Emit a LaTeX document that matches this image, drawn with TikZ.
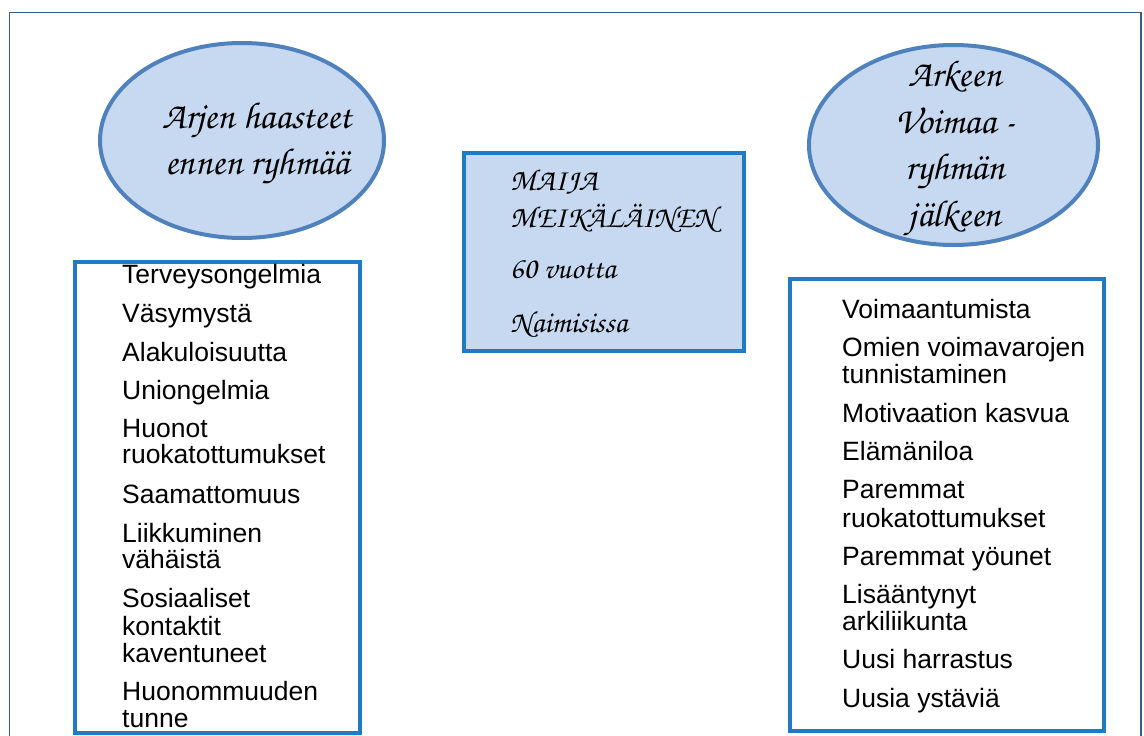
\documentclass[tikz,border=0pt]{standalone}
\usepackage{fontspec}
\setmainfont{Liberation Sans}
\newfontfamily\callig{texgyrechorus-mediumitalic.otf}
\usetikzlibrary{shapes.geometric}

\definecolor{ovalfill}{HTML}{C6D9F1}
\definecolor{ovalline}{HTML}{4F81BD}
\definecolor{boxline}{HTML}{1F7BC6}
\definecolor{frameline}{HTML}{385D8A}

\begin{document}
\begin{tikzpicture}[x=1pt,y=-1pt,
	oval/.style={ellipse, draw=ovalline, fill=ovalfill, line width=4pt, inner sep=0pt},
	ovaltext/.style={inner sep=0pt, align=center, font=\callig\fontsize{37.5}{46.5}\selectfont},
	listbox/.style={draw=boxline, line width=4pt, inner sep=0pt},
	item/.style={anchor=base west, inner sep=0pt, font=\fontsize{26.5}{26}\selectfont},
	person/.style={anchor=base west, inner sep=0pt, font=\callig\fontsize{30.5}{30}\selectfont}]
	\useasboundingbox (0,0) rectangle (1144,736);
	% outer frame
	\draw[frameline, line width=1.5pt] (9.5,737) -- (9.5,12.5) -- (1141,12.5) -- (1141,737);
	% ovals
	\node[oval, minimum width=284pt, minimum height=195pt] (before) at (242,140.5) {};
	\node[ovaltext] (beforetxt) at (257,143.5) {Arjen haasteet\\ennen ryhmää};
	\node[oval, minimum width=289pt, minimum height=200pt] (after) at (953.5,145) {};
	\node[ovaltext] (aftertxt) at (955,148.5) {Arkeen\\Voimaa -\\ryhmän\\jälkeen};
	% person box
	\node[listbox, fill=ovalfill, minimum width=280pt, minimum height=198pt] (person) at (604,252) {};
	\node[person] (p1) at (510,190) {MAIJA};
	\node[person] (p2) at (510,227) {MEIKÄLÄINEN};
	\node[person] (p3) at (510,278) {60 vuotta};
	\node[person] (p4) at (510,332) {Naimisissa};
	% lists
	\node[listbox, minimum width=285pt, minimum height=471pt] (leftbox) at (217.5,497.5) {};
	\node[listbox, minimum width=314pt, minimum height=452pt] (rightbox) at (947,505) {};
	\foreach \txt/\yy [count=\i] in {Terveysongelmia/283, Väsymystä/322, Alakuloisuutta/361,
		Uniongelmia/399, Huonot/437, ruokatottumukset/463, Saamattomuus/503, Liikkuminen/542,
		vähäistä/568, Sosiaaliset/607, kontaktit/635, kaventuneet/662, Huonommuuden/700, tunne/727}
		\node[item] (l\i) at (122,\yy) {\txt};
	\foreach \txt/\yy [count=\i] in {Voimaantumista/318, Omien voimavarojen/356, tunnistaminen/383,
		Motivaation kasvua/422, Elämäniloa/460, Paremmat/498, ruokatottumukset/527,
		Paremmat yöunet/565, Lisääntynyt/603, arkiliikunta/630, Uusi harrastus/668, Uusia ystäviä/707}
		\node[item] (r\i) at (842,\yy) {\txt};
\end{tikzpicture}
\end{document}
